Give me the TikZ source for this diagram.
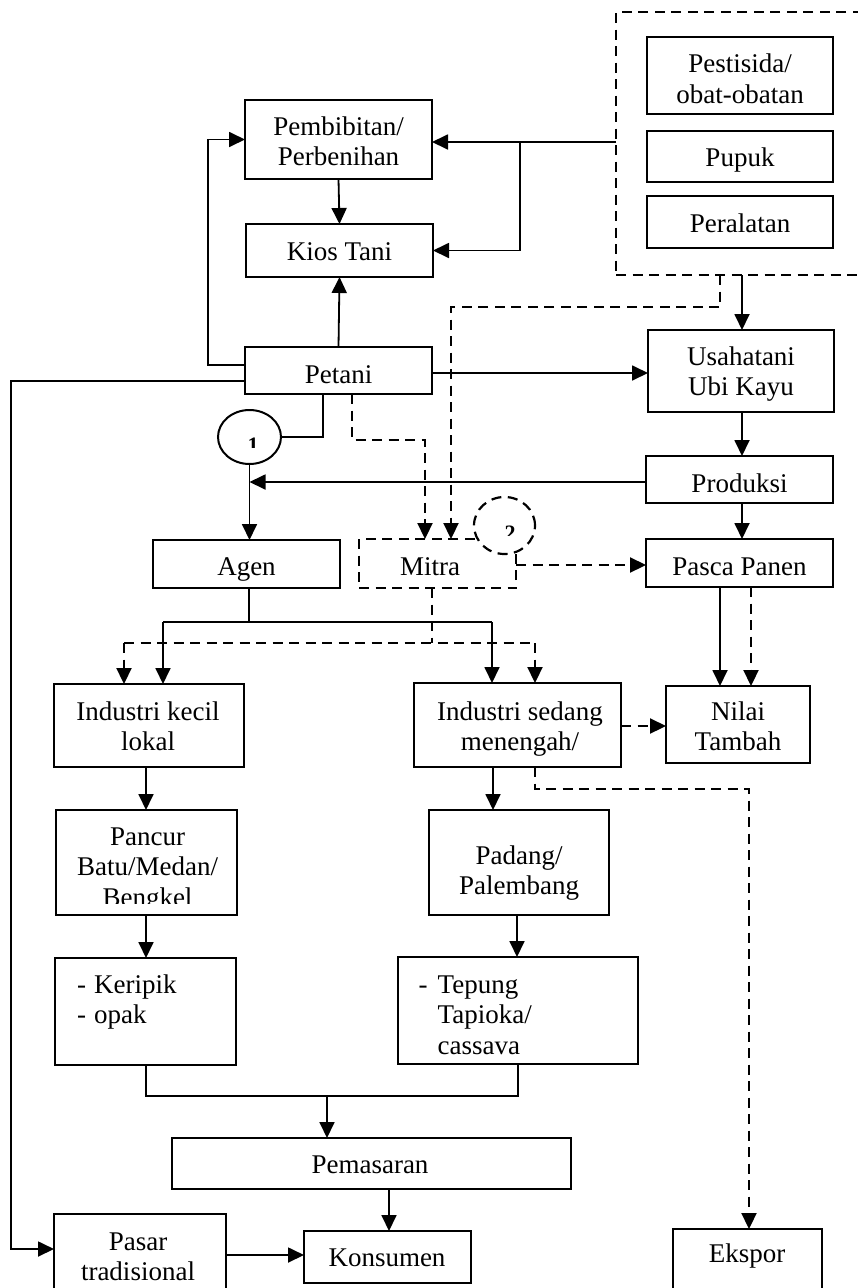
\documentclass[tikz,border=0pt]{standalone}
\usepackage{fontspec}
\setmainfont{Liberation Serif}
\usetikzlibrary{arrows.meta,shapes.geometric}
\newcommand\dfont{\fontsize{27}{30.5}\selectfont}
\begin{document}
\begin{tikzpicture}[x=1pt,y=-1pt,
  box/.style={draw, line width=2pt, inner sep=0pt, outer sep=0pt},
  dbox/.style={draw, line width=2.2pt, dash pattern=on 10pt off 6.5pt, inner sep=0pt, outer sep=0pt},
  txt/.style={font=\dfont, inner sep=0pt, anchor=base},
  ln/.style={line width=1.8pt},
  dln/.style={line width=2.2pt, dash pattern=on 10pt off 6.5pt},
  arr/.style={line width=1.8pt, -{Triangle[length=16pt,width=15pt]}},
  darr/.style={line width=2.2pt, dash pattern=on 10pt off 6.5pt, -{Triangle[length=16pt,width=15pt]}},
]
\useasboundingbox (0,0) rectangle (858,1288);

% boxes
\node[dbox, minimum width=264pt, minimum height=263pt] (outer) at (748,143.5) {};
\node[box, minimum width=186pt, minimum height=77pt] (pest) at (740,75.5) {};
\node[box, minimum width=186pt, minimum height=51pt] (pupuk) at (740,156.5) {};
\node[box, minimum width=186pt, minimum height=52pt] (peral) at (740,222) {};
\node[box, minimum width=187pt, minimum height=79pt] (pemb) at (338.5,139.5) {};
\node[box, minimum width=187pt, minimum height=53pt] (kios) at (339.5,250.5) {};
\node[box, minimum width=187pt, minimum height=47pt] (petani) at (338.5,370.5) {};
\node[box, minimum width=186pt, minimum height=82pt] (usaha) at (741,371) {};
\node[box, minimum width=187pt, minimum height=47pt] (prod) at (739.5,479.5) {};
\node[box, minimum width=187pt, minimum height=48pt] (pasca) at (739.5,563) {};
\node[box, minimum width=187pt, minimum height=48pt] (agen) at (246.5,564) {};
\node[dbox, minimum width=157pt, minimum height=49pt] (mitra) at (437.5,563.5) {};
\node[box, ellipse, minimum width=63pt, minimum height=54pt] (c1) at (249.5,437) {};
\node[dbox, ellipse, fill=white, minimum width=61pt, minimum height=57pt] (c2) at (504.5,525.5) {};
\node[box, minimum width=190pt, minimum height=83pt] (ikl) at (149,725.5) {};
\node[box, minimum width=207pt, minimum height=84pt] (ism) at (517.5,725) {};
\node[box, minimum width=144pt, minimum height=77pt] (nilai) at (738,724.5) {};
\node[box, minimum width=181pt, minimum height=105pt] (pancur) at (146.5,862.5) {};
\node[box, minimum width=180pt, minimum height=105pt] (padang) at (519,862.5) {};
\node[box, minimum width=181pt, minimum height=107pt] (kerip) at (145.5,1011.5) {};
\node[box, minimum width=240pt, minimum height=107pt] (tepung) at (518,1010.5) {};
\node[box, minimum width=399pt, minimum height=51pt] (pemas) at (371.5,1163.5) {};
\node[box, minimum width=167pt, minimum height=52pt] (kons) at (387.5,1257) {};
\node[box, minimum width=172pt, minimum height=86pt] (pasar) at (140,1257) {};
\node[box, minimum width=149pt, minimum height=71pt] (ekspor) at (747.5,1264.5) {};

% texts
\node[txt] (tpest) at (740,72.5) {\begin{tabular}[t]{@{}c@{}}Pestisida/\\obat-obatan\end{tabular}};
\node[txt] (tpupuk) at (740,166) {Pupuk};
\node[txt] (tperal) at (740,232) {Peralatan};
\node[txt] (tpemb) at (338.5,135) {\begin{tabular}[t]{@{}c@{}}Pembibitan/\\Perbenihan\end{tabular}};
\node[txt] (tkios) at (339.5,260) {Kios Tani};
\node[txt] (tpetani) at (338.5,383) {Petani};
\node[txt] (tusaha) at (741,365) {\begin{tabular}[t]{@{}c@{}}Usahatani\\Ubi Kayu\end{tabular}};
\node[txt] (tprod) at (739.5,492) {Produksi};
\node[txt] (tpasca) at (739.5,575) {Pasca Panen};
\node[txt] (tagen) at (246.5,575) {Agen};
\node[txt] (tmitra) at (430,575) {Mitra};
\node[txt] (tikl) at (148,720) {\begin{tabular}[t]{@{}c@{}}Industri kecil\\lokal\end{tabular}};
\node[txt] (tism) at (520,720) {\begin{tabular}[t]{@{}c@{}}Industri sedang\\menengah/\end{tabular}};
\node[txt] (tnilai) at (738,720) {\begin{tabular}[t]{@{}c@{}}Nilai\\Tambah\end{tabular}};
\begin{scope}
  \clip (60,815) rectangle (235,903);
  \node[txt] (tpancur) at (147.5,845) {\begin{tabular}[t]{@{}c@{}}Pancur\\Batu/Medan/\\Bengkel\end{tabular}};
\end{scope}
\node[txt] (tpadang) at (519,864) {\begin{tabular}[t]{@{}c@{}}Padang/\\Palembang\end{tabular}};
\node[txt, anchor=base west] (tkerip) at (77,993) {\begin{tabular}[t]{@{}l@{\hspace{8pt}}l@{}}-&Keripik\\-&opak\end{tabular}};
\node[txt, anchor=base west] (ttepung) at (418.5,993) {\begin{tabular}[t]{@{}l@{\hspace{10pt}}l@{}}-&Tepung\\&Tapioka/\\&cassava\end{tabular}};
\node[txt] (tpemas) at (370,1173) {Pemasaran};
\node[txt] (tkons) at (387,1266) {Konsumen};
\node[txt] (tpasar) at (138,1250) {\begin{tabular}[t]{@{}c@{}}Pasar\\tradisional\end{tabular}};
\node[txt] (tekspor) at (747,1262) {Ekspor};
\begin{scope}
  \clip (230,420) rectangle (275,447);
  \node[txt, font=\fontsize{22}{22}\selectfont\bfseries] (n1) at (253,452) {1};
\end{scope}
\begin{scope}
  \clip (485,505) rectangle (530,535);
  \node[txt, font=\fontsize{22}{22}\selectfont\bfseries] (n2) at (510,540) {2};
\end{scope}

% connectors
\draw[arr] (pemb.south) -- (kios.north);
\draw[arr] (petani.north) -- (kios.south);
\draw[arr] (petani.west |- 0,365) -- (208,365) |- (pemb.west);
\draw[arr] (outer.west |- 0,142) -- (pemb.east |- 0,142);
\draw[arr] (520,142) |- (kios.east);
\draw[arr] (742,0 |- outer.south) -- (742,0 |- usaha.north);
\draw[darr] (720,0 |- outer.south) -- (720,307) -- (451,307) -- (451,0 |- mitra.north);
\draw[arr] (petani.east |- 0,373) -- (usaha.west |- 0,373);
\draw[arr] (petani.west |- 0,381) -- (11,381) |- (pasar.west |- 0,1249);
\draw[ln] (323,0 |- petani.south) |- (c1.east);
\draw[darr] (352,0 |- petani.south) -- (352,440) -| (425,0 |- mitra.north);
\draw[arr] (c1.south) -- (c1.south |- agen.north);
\draw[arr] (prod.west |- 0,482) -- (c1.south |- 0,482);
\draw[arr] (742,0 |- usaha.south) -- (742,0 |- prod.north);
\draw[arr] (742,0 |- prod.south) -- (742,0 |- pasca.north);
\draw[darr] (mitra.east |- 0,565) -- (pasca.west |- 0,565);
\draw[ln] (agen.south -| 249,0) -- (249,622);
\draw[arr] (163,622) -- (163,0 |- ikl.north);
\draw[arr] (492,622) -- (492,0 |- ism.north);
\draw[ln] (163,622) -- (492,622);
\draw[dln] (432,0 |- mitra.south) -- (432,643);
\draw[darr] (124,643) -- (124,0 |- ikl.north);
\draw[darr] (535,643) -- (535,0 |- ism.north);
\draw[dln] (124,643) -- (535,643);
\draw[arr] (720,0 |- pasca.south) -- (720,0 |- nilai.north);
\draw[darr] (751,0 |- pasca.south) -- (751,0 |- nilai.north);
\draw[darr] (ism.east |- 0,726) -- (nilai.west |- 0,726);
\draw[arr] (146,0 |- ikl.south) -- (146,0 |- pancur.north);
\draw[arr] (493,0 |- ism.south) -- (493,0 |- padang.north);
\draw[arr] (146,0 |- pancur.south) -- (146,0 |- kerip.north);
\draw[arr] (517,0 |- padang.south) -- (517,0 |- tepung.north);
\draw[ln] (146,0 |- kerip.south) |- (518,1096) -- (518,0 |- tepung.south);
\draw[arr] (327,1096) -- (327,0 |- pemas.north);
\draw[arr] (389,0 |- pemas.south) -- (389,0 |- kons.north);
\draw[arr] (pasar.east |- 0,1255) -- (kons.west |- 0,1255);
\draw[darr] (535,0 |- ism.south) -- (535,789) -| (749,0 |- ekspor.north);
\end{tikzpicture}
\end{document}
